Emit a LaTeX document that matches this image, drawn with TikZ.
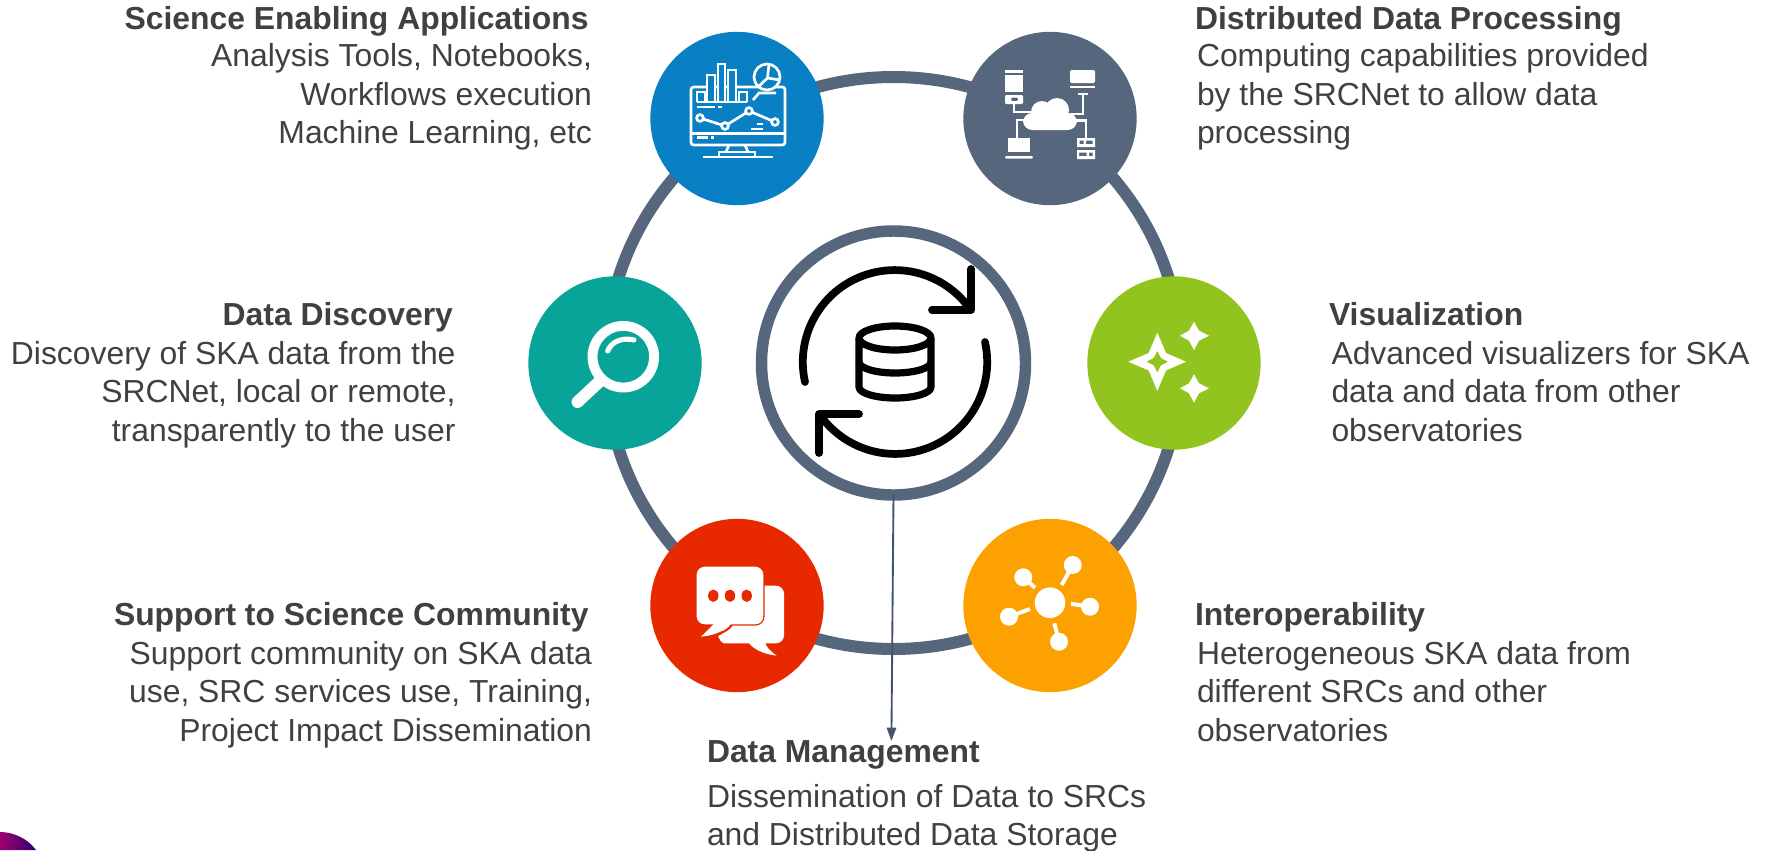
\documentclass[tikz,border=0pt]{standalone}
\usepackage{fontspec}
\setmainfont{Liberation Sans}
\usetikzlibrary{arrows.meta}
\definecolor{ringgrey}{HTML}{56667D}
\definecolor{appblue}{HTML}{0A80C4}
\definecolor{tealc}{HTML}{08A49A}
\definecolor{greenc}{HTML}{92C41F}
\definecolor{redc}{HTML}{E82900}
\definecolor{orangec}{HTML}{FCA100}
\definecolor{txt}{HTML}{404040}
\definecolor{arrowc}{HTML}{44546A}
\definecolor{logoL}{HTML}{A0006E}
\definecolor{logoR}{HTML}{2C0070}
\tikzset{
  iconball/.style={circle,minimum size=130pt,inner sep=0pt,outer sep=0pt},
  ttl/.style={font=\fontsize{23.9}{29}\selectfont\bfseries,text=txt,inner sep=0pt,outer sep=0pt},
  bodyL/.style={font=\fontsize{23.9}{29}\selectfont,text=txt,inner sep=0pt,outer sep=0pt,align=right,anchor=north east},
  bodyR/.style={font=\fontsize{23.9}{29}\selectfont,text=txt,inner sep=0pt,outer sep=0pt,align=left,anchor=north west},
  wl/.style={draw=white,line width=2pt},
  blk/.style={draw=black,line width=5.8pt,line cap=round,line join=round},
}
\begin{document}
\begin{tikzpicture}[x=0.75pt,y=-0.75pt]
\useasboundingbox (0,0) rectangle (1771,850);
% logo fragment
\shade[left color=logoL,right color=logoR]
  (0,850) -- (0,832) .. controls (14,832) and (28,839) .. (36,850) -- cycle;
% big ring
\draw[ringgrey,line width=9pt] (893.5,363) ellipse [x radius=288,y radius=286];
% circles
\node[iconball,fill=appblue] (apps) at (737,118.5) {};
\node[iconball,fill=ringgrey] (proc) at (1050,118.5) {};
\node[iconball,fill=tealc] (disc) at (615,363) {};
\node[iconball,fill=greenc] (vis) at (1174,363) {};
\node[iconball,fill=redc] (supp) at (737,605.5) {};
\node[iconball,fill=orangec] (inter) at (1050,605.5) {};
\node[circle,draw=ringgrey,fill=white,line width=8.6pt,minimum size=198pt,inner sep=0pt,outer sep=0pt] (core) at (893.5,363) {};
% arrow
\coordinate (dmtip) at (891.4,741);
\draw[arrowc,line width=1.4pt,-{Triangle[width=7pt,length=10pt]}] (core.south) -- (dmtip);

% === monitor icon
\draw[wl,rounded corners=2pt] (691,87) rectangle (785,145);
\draw[wl] (691,133.5) -- (785,133.5);
\draw[wl] (697,137.7) -- (708,137.7) (711,137.7) -- (714,137.7);
\draw[wl] (729,145) -- (726,152) (745,145) -- (748,152);
\draw[wl] (719,157) -- (719,152) -- (755,152) -- (755,157);
\draw[wl] (703,157) -- (773,157);
\foreach \xa/\xb/\yt in {697/705/92,707/715/75,718/725/64,728/736/70,739/747/92}{
  \draw[wl,fill=appblue] (\xa,102) -- (\xa,\yt) -- (\xb,\yt) -- (\xb,102);
}
\draw[wl] (697,102) -- (747,102);
\draw[wl] (697,107) -- (715,107) (718,107) -- (722,107);
\draw[wl] (700,118) -- (725,126) -- (749,111) -- (775,122);
\foreach \p in {(700,118),(725,126),(749,111),(775,122)}{
  \draw[wl,fill=appblue] \p circle [radius=3.4];
}
\draw[wl] (757,124) -- (763,124) (751,129) -- (763,129);
\draw[wl,fill=appblue] (767,77) circle [radius=13];
\draw[wl] (769,64) -- (767.5,78) -- (780,80) (767.5,78) -- (758,87);
\draw[wl] (753,100) -- (759,93) -- (776,93);

% === network icon
\fill[white] (1005,70) rectangle (1023,72.5);
\fill[white] (1005,75) rectangle (1023,92);
\fill[white,even odd rule,rounded corners=0.8pt] (1005,95) rectangle (1023,104) (1011,97.5) rectangle (1018,101);
\draw[wl] (1014,104) -- (1014,112) -- (1034,112);
\fill[white,rounded corners=1pt] (1070,70) rectangle (1095,83);
\fill[white] (1070,85.7) rectangle (1095,88);
\fill[white] (1078,92.5) rectangle (1088,94.5);
\draw[wl] (1083,94) -- (1083,114) -- (1070,114);
\fill[white,rounded corners=7pt] (1023,113) rectangle (1077,130);
\fill[white] (1042,112) circle [radius=11];
\fill[white] (1057,110) circle [radius=12];
\draw[wl] (1017,138) -- (1017,120) -- (1028,120);
\fill[white] (1008,138) rectangle (1030,152);
\fill[white,rounded corners=0.8pt] (1005,156) rectangle (1033,158.5);
\draw[wl] (1074,120.7) -- (1086,120.7) -- (1086,138);
\fill[white,even odd rule] (1077,138) rectangle (1095,147) (1079.5,140.5) rectangle (1083.5,144) (1086,140.5) rectangle (1092.5,144);
\fill[white,even odd rule] (1077,150) rectangle (1095,159) (1079,152.5) rectangle (1086.5,156) (1089,152.5) rectangle (1092.5,156);

% === centre icon
\draw[blk] (805,382) arc [start angle=167.5,end angle=321.6,radius=92];
\draw[blk] (971,269) -- (971,310) -- (932,310);
\draw[blk] (985,342) arc [start angle=-12.5,end angle=142,radius=92];
\draw[blk] (819,453) -- (819,414) -- (859,414);
\draw[blk,line width=5.4pt] (895,338) ellipse [x radius=36,y radius=12];
\draw[blk,line width=5.4pt,line cap=butt] (859,338) -- (859,387) arc [start angle=180,end angle=0,x radius=36,y radius=11] -- (931,338);
\draw[blk,line width=5.4pt,line cap=butt] (859,362) arc [start angle=180,end angle=0,x radius=36,y radius=11];

% === sparkle icon
\fill[white,even odd rule] (1157.3,332.7) -- (1166,353) -- (1186,361.7) -- (1166,370.4) -- (1157.3,390.7) -- (1148.6,370.4) -- (1128.3,361.7) -- (1148.6,353) -- cycle
  (1157.3,350.7) -- (1161,358) -- (1168.3,361.7) -- (1161,365.4) -- (1157.3,372.7) -- (1153.6,365.4) -- (1146.3,361.7) -- (1153.6,358) -- cycle;
\fill[white] (1194,321.7) -- (1199,330.7) -- (1209,335.7) -- (1199,340.7) -- (1194,350) -- (1189,340.7) -- (1180,335.7) -- (1189,330.7) -- cycle;
\fill[white] (1194,374.3) -- (1199,383.3) -- (1209,388.3) -- (1199,393.3) -- (1194,402.5) -- (1189,393.3) -- (1180,388.3) -- (1189,383.3) -- cycle;

% === magnifier icon
\draw[white,line width=7.4pt] (623.3,356.7) circle [radius=30.8];
\draw[white,line width=9pt,line cap=round] (599.3,381.7) -- (577.5,402);
\draw[white,line width=3.8pt,line cap=round] (607.7,351) .. controls (611,342) and (622,337) .. (634,340);

% === chat icon
\fill[white,rounded corners=6pt] (722,585.7) rectangle (784,643.3);
\fill[white] (718,636) -- (730,630) -- (730,643.3) -- (724,643.3) .. controls (721,642) .. cycle;
\fill[white] (748,642) .. controls (754,650) and (764,654) .. (776.7,655.7) .. controls (770,651) and (766,647) .. (765,642) -- cycle;
\draw[redc,line width=2pt,fill=white,rounded corners=6pt] (696.7,566.7) rectangle (763.3,624.3);
\fill[white,rounded corners=6pt] (696.7,566.7) rectangle (763.3,624.3);
\draw[redc,line width=1.6pt] (731.7,625.5) .. controls (726,632) and (716,636) .. (703,637.5);
\fill[white] (715,623) -- (701,636.7) .. controls (714,635.5) and (725,631) .. (731.7,623) -- cycle;
\fill[redc] (713.3,595.7) ellipse [x radius=5.2,y radius=6.2];
\fill[redc] (730,595.7) ellipse [x radius=5.2,y radius=6.2];
\fill[redc] (746.7,595.7) ellipse [x radius=5.2,y radius=6.2];

% === hub icon
\fill[white] (1050,602.7) circle [radius=15.3];
\fill[white] (1072.7,565) circle [radius=9];
\fill[white] (1023.3,577.3) circle [radius=9];
\fill[white] (1090,606.7) circle [radius=9];
\fill[white] (1009,616.7) circle [radius=9];
\fill[white] (1059,641.7) circle [radius=9];
\draw[white,line width=3pt] (1072.7,565) -- (1061.7,585);
\draw[white,line width=3pt] (1023.3,577.3) -- (1035,587.7);
\draw[white,line width=3pt] (1090,606.7) -- (1071,603.8);
\draw[white,line width=3pt] (1009,616.7) -- (1030,609);
\draw[white,line width=3pt] (1059,641.7) -- (1054.3,623.3);

% === texts
\node[ttl,anchor=base east] (t1) at (588.5,29) {Science Enabling Applications};
\node[bodyL] (b1) at (592,43.5) {Analysis Tools, Notebooks,\\Workflows execution\\Machine Learning, etc};
\node[ttl,anchor=base west] (t2) at (1195,29) {Distributed Data Processing};
\node[bodyR] (b2) at (1197,43.5) {Computing capabilities provided\\by the SRCNet to allow data\\processing};
\node[ttl,anchor=base east] (t3) at (453,325) {Data Discovery};
\node[bodyL] (b3) at (455.5,341) {Discovery of SKA data from the\\SRCNet, local or remote,\\transparently to the user};
\node[ttl,anchor=base west] (t4) at (1329,325) {Visualization};
\node[bodyR] (b4) at (1331.5,341) {Advanced visualizers for SKA\\data and data from other\\observatories};
\node[ttl,anchor=base east] (t5) at (588.5,625) {Support to Science Community};
\node[bodyL] (b5) at (592,641) {Support community on SKA data\\use, SRC services use, Training,\\Project Impact Dissemination};
\node[ttl,anchor=base west] (t6) at (1195,625) {Interoperability};
\node[bodyR] (b6) at (1197,641) {Heterogeneous SKA data from\\different SRCs and other\\observatories};
\node[ttl,anchor=base west] (t7) at (707,762) {Data Management};
\node[bodyR] (b7) at (707,784) {Dissemination of Data to SRCs\\and Distributed Data Storage};
\end{tikzpicture}
\end{document}
